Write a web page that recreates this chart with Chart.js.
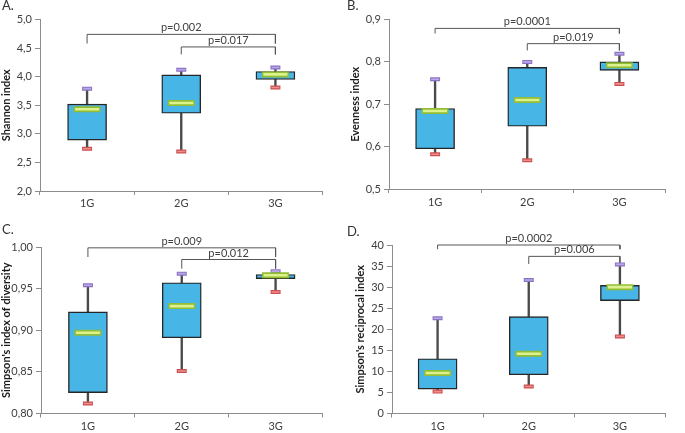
<!DOCTYPE html>
<html>
<head>
<meta charset="utf-8">
<script src="https://cdn.jsdelivr.net/npm/chart.js@4.4.1/dist/chart.umd.min.js"></script>
<style>
	body { margin: 0; background: #fff; width: 685px; height: 433px; position: relative; overflow: hidden; font-family: Lato, sans-serif; }
	.panel { position: absolute; width: 342px; height: 216px; }
	.letter { position: absolute; font-size: 13px; color: #333; line-height: 14px; }
</style>
</head>
<body>
<div class="panel" style="left:0;top:0"><canvas id="chartA"></canvas></div>
<div class="panel" style="left:343px;top:0"><canvas id="chartB"></canvas></div>
<div class="panel" style="left:0;top:217px"><canvas id="chartC"></canvas></div>
<div class="panel" style="left:343px;top:217px"><canvas id="chartD"></canvas></div>
<div class="letter" style="left:2px;top:-2px">A.</div>
<div class="letter" style="left:347px;top:-2px">B.</div>
<div class="letter" style="left:2px;top:222px">C.</div>
<div class="letter" style="left:347px;top:224px">D.</div>
<script>
const groups = [ '1G', '2G', '3G' ];

// A. Shannon index
const shanMin = [ 2.74, 2.69, 3.81 ];
const shanQ1 = [ 2.89, 3.36, 3.95 ];
const shanMed = [ 3.43, 3.54, 4.04 ];
const shanQ3 = [ 3.52, 4.03, 4.09 ];
const shanMax = [ 3.79, 4.12, 4.16 ];
const shanTicks = [ 2.0, 2.5, 3.0, 3.5, 4.0, 4.5, 5.0 ];
const shanPairs = [ [ 0, 2 ], [ 1, 2 ] ];
const shanBracketTop = [ 4.74, 4.52 ];
const shanBracketFoot = [ 4.58, 4.39 ];
const shanP = [ 'p=0.002', 'p=0.017' ];

// B. Evenness index
const evenMin = [ 0.582, 0.568, 0.748 ];
const evenQ1 = [ 0.595, 0.648, 0.780 ];
const evenMed = [ 0.684, 0.710, 0.792 ];
const evenQ3 = [ 0.690, 0.787, 0.800 ];
const evenMax = [ 0.759, 0.800, 0.819 ];
const evenTicks = [ 0.5, 0.6, 0.7, 0.8, 0.9 ];
const evenPairs = [ [ 0, 2 ], [ 1, 2 ] ];
const evenBracketTop = [ 0.879, 0.843 ];
const evenBracketFoot = [ 0.867, 0.827 ];
const evenP = [ 'p=0.0001', 'p=0.019' ];

// C. Simpson's index of diversity
const simpMin = [ 0.812, 0.851, 0.946 ];
const simpQ1 = [ 0.825, 0.891, 0.962 ];
const simpMed = [ 0.897, 0.929, 0.966 ];
const simpQ3 = [ 0.922, 0.957, 0.967 ];
const simpMax = [ 0.954, 0.968, 0.971 ];
const simpTicks = [ 0.80, 0.85, 0.90, 0.95, 1.00 ];
const simpPairs = [ [ 0, 2 ], [ 1, 2 ] ];
const simpBracketTop = [ 0.999, 0.985 ];
const simpBracketFoot = [ 0.988, 0.974 ];
const simpP = [ 'p=0.009', 'p=0.012' ];

// D. Simpson's reciprocal index
const recMin = [ 5.2, 6.4, 18.3 ];
const recQ1 = [ 5.8, 9.2, 26.8 ];
const recMed = [ 9.6, 14.2, 30.0 ];
const recQ3 = [ 13.0, 23.0, 30.4 ];
const recMax = [ 22.6, 31.7, 35.4 ];
const recTicks = [ 0, 5, 10, 15, 20, 25, 30, 35, 40 ];
const recPairs = [ [ 0, 2 ], [ 1, 2 ] ];
const recBracketTop = [ 40, 37.3 ];
const recBracketFoot = [ 39, 35.5 ];
const recP = [ 'p=0.0002', 'p=0.006' ];

const FONT = 'Lato, sans-serif';
const TEXT = '#404040';
const AXIS = '#8c8c8c';

// little horizontal marks (median bar, whisker caps) drawn as 'line' points
function markSet( data, color, radius, width, order ) {
	return {
		type: 'line',
		data,
		showLine: false,
		pointStyle: 'line',
		pointRadius: radius,
		pointBorderWidth: width,
		pointBorderColor: color,
		order
	};
}

function makePanel( id, p ) {
	const datasets = [
		{
			type: 'bar',
			data: groups.map( ( g, i ) => [ p.min[ i ], p.max[ i ] ] ),
			backgroundColor: '#4a4a4a',
			barThickness: 1.7,
			grouped: false,
			order: 6
		},
		{
			type: 'bar',
			data: groups.map( ( g, i ) => [ p.q1[ i ], p.q3[ i ] ] ),
			backgroundColor: '#48b5e7',
			borderColor: '#262626',
			borderWidth: 1.4,
			borderSkipped: false,
			barThickness: 39,
			grouped: false,
			order: 5
		},
		markSet( p.max, '#8a72c4', 5, 4, 4 ),
		markSet( p.max, '#b9a8e8', 4, 1.6, 3 ),
		markSet( p.min, '#cc4f4f', 5, 4, 4 ),
		markSet( p.min, '#f08c8c', 4, 1.6, 3 ),
		markSet( p.med, '#92bd35', 13.5, 6, 2 ),
		markSet( p.med, '#dcf28e', 12, 2.6, 1 )
	];

	// significance brackets
	p.pairs.forEach( ( pair, k ) => {
		const a = groups[ pair[ 0 ] ];
		const b = groups[ pair[ 1 ] ];
		datasets.push( {
			type: 'line',
			data: [
				{ x: a, y: p.foot[ k ] },
				{ x: a, y: p.top[ k ] },
				{ x: b, y: p.top[ k ] },
				{ x: b, y: p.foot[ k ] }
			],
			borderColor: '#555555',
			borderWidth: 1,
			pointRadius: 0,
			tension: 0,
			clip: false,
			order: 7
		} );
	} );

	const pLabels = {
		id: 'pLabels',
		afterDatasetsDraw( chart ) {
			const ctx = chart.ctx;
			const xs = chart.scales.x;
			const ys = chart.scales.y;
			ctx.save();
			ctx.font = '11px ' + FONT;
			ctx.fillStyle = TEXT;
			ctx.textAlign = 'center';
			ctx.textBaseline = 'bottom';
			p.pairs.forEach( ( pair, k ) => {
				const x = ( xs.getPixelForValue( pair[ 0 ] ) + xs.getPixelForValue( pair[ 1 ] ) ) / 2;
				const y = ys.getPixelForValue( p.top[ k ] ) - 1;
				ctx.fillText( p.labels[ k ], x, y );
			} );
			ctx.restore();
		}
	};

	return new Chart( document.getElementById( id ), {
		type: 'bar',
		data: { labels: groups, datasets },
		plugins: [ pLabels ],
		options: {
			responsive: true,
			maintainAspectRatio: false,
			animation: false,
			events: [],
			layout: { padding: p.padding },
			plugins: {
				legend: { display: false },
				tooltip: { enabled: false }
			},
			scales: {
				x: {
					offset: true,
					grid: { offset: true, drawOnChartArea: false, tickLength: 4, color: AXIS },
					border: { color: AXIS },
					ticks: { padding: p.xPad, color: TEXT, font: { family: FONT, size: 11 } },
					afterFit: ( s ) => { s.height = p.xHeight; }
				},
				y: {
					min: p.ticks[ 0 ],
					max: p.ticks[ p.ticks.length - 1 ],
					afterBuildTicks: ( s ) => { s.ticks = p.ticks.map( ( v ) => ( { value: v } ) ); },
					grid: { drawOnChartArea: false, tickLength: 5, color: AXIS },
					border: { color: AXIS },
					ticks: {
						padding: 3,
						color: TEXT,
						font: { family: FONT, size: 11 },
						callback: ( v ) => v.toFixed( p.decimals ).replace( '.', ',' )
					},
					title: {
						display: true,
						text: p.title,
						color: '#1a1a1a',
						padding: 0,
						font: { family: FONT, size: 11, weight: 'bold' }
					},
					afterFit: ( s ) => { s.width = p.yWidth; }
				}
			}
		}
	} );
}

makePanel( 'chartA', {
	min: shanMin, q1: shanQ1, med: shanMed, q3: shanQ3, max: shanMax,
	ticks: shanTicks, decimals: 1, title: 'Shannon index',
	pairs: shanPairs, top: shanBracketTop, foot: shanBracketFoot, labels: shanP,
	padding: { left: 0, top: 14, right: 11, bottom: 0 }, yWidth: 40, xHeight: 25, xPad: 2
} );

makePanel( 'chartB', {
	min: evenMin, q1: evenQ1, med: evenMed, q3: evenQ3, max: evenMax,
	ticks: evenTicks, decimals: 1, title: 'Evenness index',
	pairs: evenPairs, top: evenBracketTop, foot: evenBracketFoot, labels: evenP,
	padding: { left: 6, top: 15, right: 2, bottom: 0 }, yWidth: 40, xHeight: 27, xPad: 3
} );

makePanel( 'chartC', {
	min: simpMin, q1: simpQ1, med: simpMed, q3: simpQ3, max: simpMax,
	ticks: simpTicks, decimals: 2, title: 'Simpson\'s index of diversity',
	pairs: simpPairs, top: simpBracketTop, foot: simpBracketFoot, labels: simpP,
	padding: { left: 0, top: 30, right: 12, bottom: 0 }, yWidth: 41, xHeight: 18, xPad: 2
} );

makePanel( 'chartD', {
	min: recMin, q1: recQ1, med: recMed, q3: recQ3, max: recMax,
	ticks: recTicks, decimals: 0, title: 'Simpson\'s reciprocal index',
	pairs: recPairs, top: recBracketTop, foot: recBracketFoot, labels: recP,
	padding: { left: 11, top: 28, right: 8, bottom: 0 }, yWidth: 38, xHeight: 17, xPad: 2
} );
</script>
</body>
</html>
